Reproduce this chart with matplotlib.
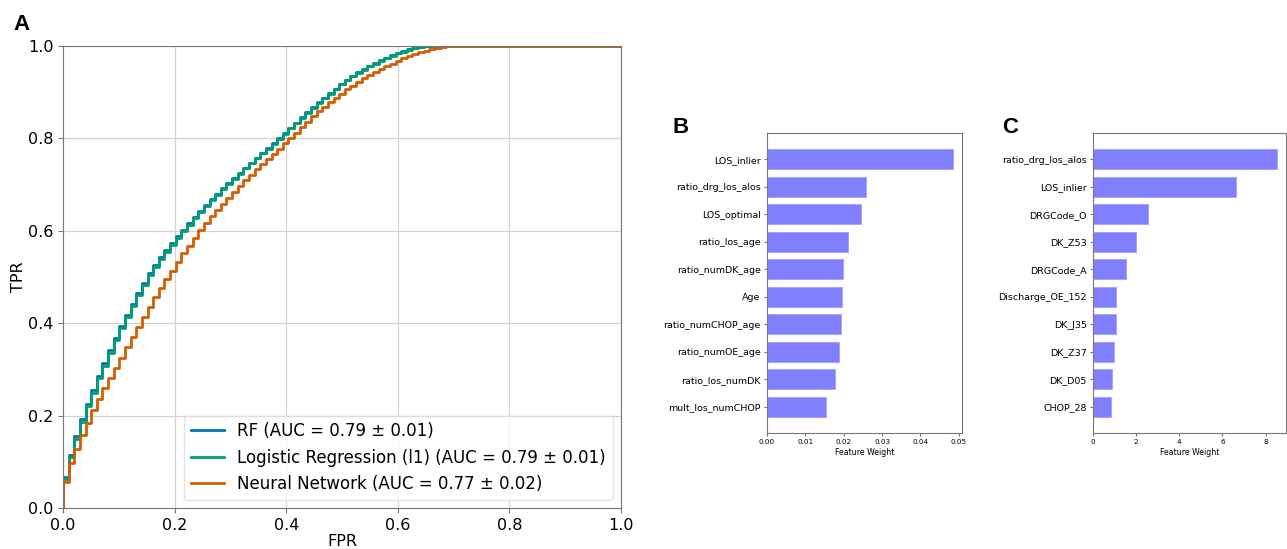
import numpy as np
import matplotlib
matplotlib.use("Agg")
import matplotlib.pyplot as plt

# ---------------- Panel A data: mean ROC curves (TPR on FPR grid k/99) ----------------
fpr_grid = np.linspace(0, 1, 100)

tpr_rf = [0.068, 0.115, 0.155, 0.192, 0.225, 0.255, 0.286, 0.313, 0.341, 0.369,
          0.394, 0.418, 0.442, 0.465, 0.487, 0.508, 0.526, 0.544, 0.559, 0.574,
          0.589, 0.602, 0.616, 0.630, 0.643, 0.656, 0.668, 0.680, 0.692, 0.703,
          0.714, 0.725, 0.736, 0.747, 0.758, 0.769, 0.779, 0.789, 0.800, 0.811,
          0.823, 0.834, 0.846, 0.857, 0.867, 0.878, 0.888, 0.898, 0.908, 0.918,
          0.927, 0.935, 0.943, 0.950, 0.957, 0.963, 0.969, 0.975, 0.980, 0.985,
          0.989, 0.993, 0.996, 0.998, 0.999, 0.999, 0.999, 0.999, 0.999, 0.999,
          0.999, 0.999, 0.999, 0.999, 0.999, 0.999, 1.0, 1.0, 1.0, 1.0,
          1.0, 1.0, 1.0, 1.0, 1.0, 1.0, 1.0, 1.0, 1.0, 1.0,
          1.0, 1.0, 1.0, 1.0, 1.0, 1.0, 1.0, 1.0, 1.0, 1.0]

tpr_lr = [0.062, 0.110, 0.150, 0.187, 0.220, 0.250, 0.281, 0.308, 0.336, 0.364,
          0.390, 0.414, 0.438, 0.461, 0.483, 0.504, 0.522, 0.540, 0.555, 0.570,
          0.585, 0.599, 0.613, 0.627, 0.641, 0.654, 0.666, 0.678, 0.690, 0.702,
          0.713, 0.724, 0.735, 0.746, 0.757, 0.768, 0.778, 0.788, 0.799, 0.810,
          0.822, 0.833, 0.845, 0.856, 0.866, 0.877, 0.887, 0.897, 0.907, 0.917,
          0.926, 0.934, 0.942, 0.949, 0.956, 0.962, 0.968, 0.974, 0.979, 0.984,
          0.988, 0.992, 0.995, 0.997, 0.999, 1.0, 1.0, 1.0, 1.0, 1.0,
          1.0, 1.0, 1.0, 1.0, 1.0, 1.0, 1.0, 1.0, 1.0, 1.0,
          1.0, 1.0, 1.0, 1.0, 1.0, 1.0, 1.0, 1.0, 1.0, 1.0,
          1.0, 1.0, 1.0, 1.0, 1.0, 1.0, 1.0, 1.0, 1.0, 1.0]

tpr_nn = [0.057, 0.098, 0.127, 0.157, 0.185, 0.212, 0.237, 0.260, 0.282, 0.303,
          0.325, 0.348, 0.370, 0.392, 0.414, 0.436, 0.457, 0.477, 0.496, 0.514,
          0.532, 0.552, 0.568, 0.584, 0.602, 0.617, 0.631, 0.645, 0.659, 0.672,
          0.685, 0.697, 0.709, 0.721, 0.733, 0.745, 0.756, 0.767, 0.778, 0.789,
          0.800, 0.812, 0.824, 0.836, 0.848, 0.860, 0.869, 0.879, 0.888, 0.897,
          0.906, 0.914, 0.922, 0.930, 0.937, 0.944, 0.950, 0.956, 0.962, 0.968,
          0.973, 0.978, 0.982, 0.986, 0.990, 0.993, 0.996, 0.998, 1.0, 1.0,
          1.0, 1.0, 1.0, 1.0, 1.0, 1.0, 1.0, 1.0, 1.0, 1.0,
          1.0, 1.0, 1.0, 1.0, 1.0, 1.0, 1.0, 1.0, 1.0, 1.0,
          1.0, 1.0, 1.0, 1.0, 1.0, 1.0, 1.0, 1.0, 1.0, 1.0]

roc_labels = ["RF (AUC = 0.79 \u00b1 0.01)",
              "Logistic Regression (l1) (AUC = 0.79 \u00b1 0.01)",
              "Neural Network (AUC = 0.77 \u00b1 0.02)"]
roc_colors = ["#0173B2", "#029E73", "#D55E00"]

# ---------------- Panel B data ----------------
b_features = ["LOS_inlier", "ratio_drg_los_alos", "LOS_optimal", "ratio_los_age",
              "ratio_numDK_age", "Age", "ratio_numCHOP_age", "ratio_numOE_age",
              "ratio_los_numDK", "mult_los_numCHOP"]
b_weights = [0.0484, 0.0257, 0.0244, 0.0212, 0.0199, 0.0195, 0.0192, 0.0188,
             0.0178, 0.0154]

# ---------------- Panel C data ----------------
c_features = ["ratio_drg_los_alos", "LOS_inlier", "DRGCode_O", "DK_Z53", "DRGCode_A",
              "Discharge_OE_152", "DK_J35", "DK_Z37", "DK_D05", "CHOP_28"]
c_weights = [8.52, 6.64, 2.56, 1.99, 1.54, 1.08, 1.05, 0.97, 0.865, 0.82]

W, H = 1287, 549
fig = plt.figure(figsize=(W / 100, H / 100), dpi=100)

def frac(l, t, r, b):
    return [l / W, 1 - b / H, (r - l) / W, (b - t) / H]

spine_col = "#777777"

# ---------- Panel A ----------
axA = fig.add_axes(frac(63, 46, 621, 508))
for tpr, lab, col in zip([tpr_rf, tpr_lr, tpr_nn], roc_labels, roc_colors):
    xs = np.concatenate([[0.0], fpr_grid])
    ys = np.concatenate([[0.0], tpr])
    axA.step(xs, ys, where="post", color=col, lw=2.0, label=lab)
axA.set_xlim(0, 1)
axA.set_ylim(0, 1)
ticks = [0.0, 0.2, 0.4, 0.6, 0.8, 1.0]
axA.set_xticks(ticks)
axA.set_yticks(ticks)
axA.tick_params(labelsize=11.5, color=spine_col, length=3.5)
axA.grid(True, color="#d3d3d3", lw=0.9)
axA.set_axisbelow(True)
axA.set_xlabel("FPR", fontsize=11.5, labelpad=1)
axA.set_ylabel("TPR", fontsize=11.5, labelpad=1)
for s in axA.spines.values():
    s.set_color(spine_col)
leg = axA.legend(loc="lower right", fontsize=12, frameon=True, handlelength=2.0)
leg.get_frame().set_edgecolor("#dddddd")

# ---------- Panels B, C ----------
def barpanel(box, feats, vals, ticks):
    ax = fig.add_axes(frac(*box))
    y = np.arange(len(feats))[::-1]
    ax.barh(y, vals, height=0.72, color="#8080ff", edgecolor="#a0a0ff", lw=0.6)
    ax.set_yticks(y)
    ax.set_yticklabels(feats, fontsize=6.8)
    ax.set_xticks(ticks)
    ax.tick_params(axis="x", labelsize=5.2, pad=2, length=2.5, color=spine_col)
    ax.tick_params(axis="y", pad=2, length=2.5, color=spine_col)
    ax.set_ylim(-0.96, len(feats) - 1 + 0.96)
    ax.set_xlabel("Feature Weight", fontsize=5.6, labelpad=2)
    for s in ax.spines.values():
        s.set_color(spine_col)
    return ax

axB = barpanel((767, 133, 962, 433), b_features, b_weights,
               [0.00, 0.01, 0.02, 0.03, 0.04, 0.05])
axB.set_xticklabels(["0.00", "0.01", "0.02", "0.03", "0.04", "0.05"])
axC = barpanel((1093, 133, 1286, 433), c_features, c_weights, [0, 2, 4, 6, 8])

# Panel letters
for txt, x, y in [("A", 13, 30), ("B", 672, 133), ("C", 1002, 133)]:
    fig.text(x / W, 1 - y / H, txt, fontsize=16, fontweight="bold",
             family=["Liberation Sans", "DejaVu Sans"], ha="left", va="baseline")

fig.savefig("out.png", dpi=100)
